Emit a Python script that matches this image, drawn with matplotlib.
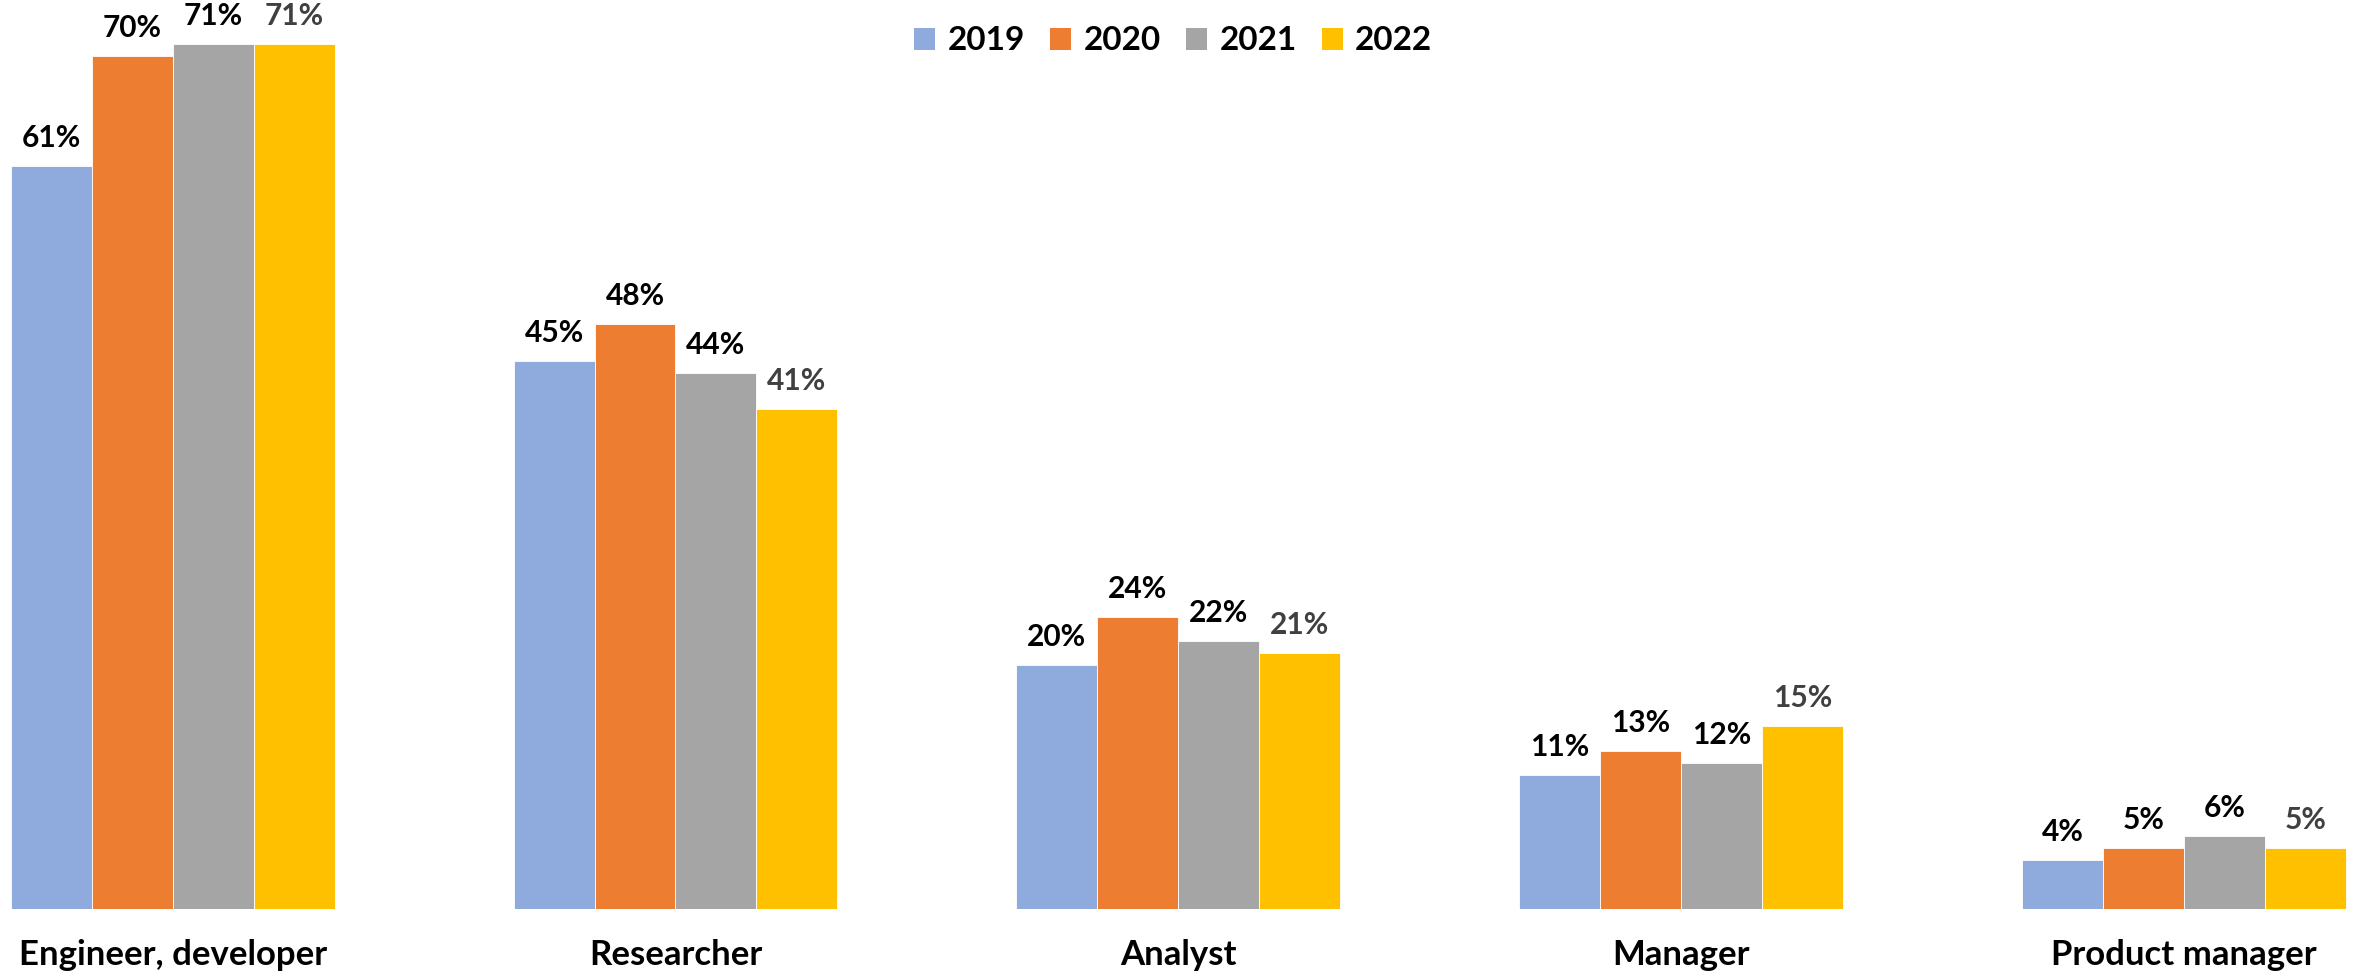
import matplotlib
matplotlib.use("Agg")
import matplotlib.pyplot as plt
import numpy as np
from matplotlib.patches import Patch

categories = ["Engineer, developer", "Researcher", "Analyst", "Manager", "Product manager"]
years = ["2019", "2020", "2021", "2022"]
v2019 = [61, 45, 20, 11, 4]
v2020 = [70, 48, 24, 13, 5]
v2021 = [71, 44, 22, 12, 6]
v2022 = [71, 41, 21, 15, 5]
series = [v2019, v2020, v2021, v2022]
colors = ["#8FAADC", "#ED7D31", "#A5A5A5", "#FFC000"]
label_colors = ["#000000", "#000000", "#000000", "#404040"]

plt.rcParams['font.family'] = ['Lato', 'DejaVu Sans']

fig = plt.figure(figsize=(23.64, 9.77), dpi=100)
ax = fig.add_axes([0, 68 / 977, 1, 909 / 977])

x = np.arange(len(categories))
bw = 0.161
for i, (vals, c, lc) in enumerate(zip(series, colors, label_colors)):
    pos = x + (i - 1.5) * bw
    ax.bar(pos, vals, width=bw, color=c, edgecolor="white", linewidth=0.6, label=years[i])
    for p, v in zip(pos, vals):
        ax.annotate(f"{v}%", (p, v), xytext=(0, 19), textcoords="offset pixels",
                    ha="center", va="baseline", fontsize=21.5, fontweight="bold", color=lc)

ax.set_xlim(-0.3434, 4.3583)
ax.set_ylim(0, 74.6)
ax.axis("off")

for xi, cat in zip(x, categories):
    ax.text(xi, -3.8, cat, ha="center", va="center", fontsize=25, fontweight="bold",
            color="black", clip_on=False)

handles = [Patch(facecolor=c, edgecolor="none") for c in colors]
fig.legend(handles, years, loc="center", bbox_to_anchor=(1173 / 2364, 1 - 41 / 977),
           ncol=4, frameon=False, prop={"size": 24, "weight": "bold"},
           handlelength=0.65, handleheight=0.65, handletextpad=0.36, columnspacing=0.75)

fig.savefig("out.png", dpi=100, facecolor="white")
